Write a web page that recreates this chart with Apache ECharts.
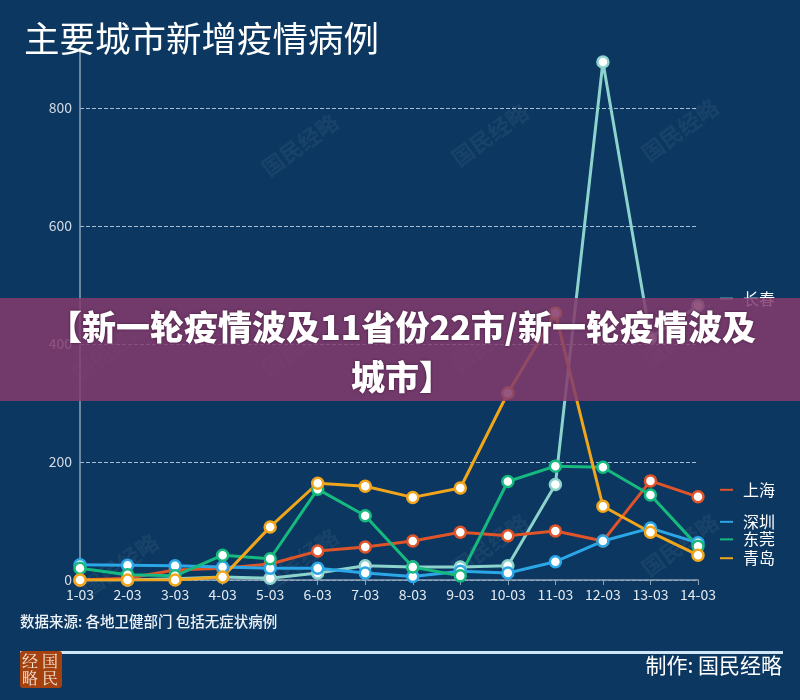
<!DOCTYPE html>
<html>
<head>
<meta charset="utf-8">
<script src="https://cdn.jsdelivr.net/npm/echarts@6/dist/echarts.min.js"></script>
<style>
  html, body { margin: 0; padding: 0; background: #0b3760; }
  #main { width: 800px; height: 700px; }
</style>
</head>
<body>
<div id="main"></div>
<script>
const days = ["1-03", "2-03", "3-03", "4-03", "5-03", "6-03", "7-03", "8-03", "9-03", "10-03", "11-03", "12-03", "13-03", "14-03"];

const changchun = [0, 0, 2, 5, 3, 12, 24, 22, 22, 24, 162, 878, 410, 465];
const shanghai = [0, 3, 17, 20, 27, 49, 56, 66, 81, 75, 83, 66, 168, 141];
const shenzhen = [26, 25, 24, 22, 20, 20, 12, 6, 15, 12, 31, 66, 88, 63];
const dongguan = [20, 9, 7, 42, 36, 154, 109, 22, 7, 167, 193, 191, 144, 57];
const qingdao = [0, 0, 0, 5, 90, 164, 159, 140, 156, 317, 452, 125, 81, 42];

const cities = ["长春", "上海", "深圳", "东莞", "青岛"];
const colors = ["#8dd3cd", "#e0542a", "#2ba6e6", "#16b97e", "#f1a51b"];
const values = [changchun, shanghai, shenzhen, dongguan, qingdao];
// vertical nudge of the end labels so the crowded ones don't collide
const labelShift = [-7, -7, -21, -7, 3];

const font = "'Noto Sans CJK SC', 'Noto Sans', sans-serif";

const chart = echarts.init(document.getElementById("main"));

const series = cities.map((name, i) => ({
	name: name,
	type: "line",
	data: values[i],
	symbol: "circle",
	symbolSize: 11,
	lineStyle: { color: colors[i], width: 3 },
	itemStyle: { color: "#fff", borderColor: colors[i], borderWidth: 2.5 },
	emphasis: { disabled: true },
	endLabel: {
		show: true,
		distance: 22,
		offset: [0, labelShift[i]],
		formatter: "{d|}{n|" + name + "}",
		rich: {
			d: { width: 13, height: 2, backgroundColor: colors[i] },
			n: { color: "#fff", fontSize: 16, lineHeight: 18, fontFamily: font, padding: [0, 0, 0, 10] },
		},
	},
}));

// watermark spots
const marks = [
	[300, 145], [490, 135], [680, 130],
	[110, 350], [300, 345], [490, 340], [680, 335],
	[120, 565], [300, 560], [490, 545], [680, 545],
];

chart.setOption({
	backgroundColor: "#0b3760",
	animation: false,
	textStyle: { fontFamily: font },
	title: {
		text: "主要城市新增疫情病例",
		left: 19,
		top: 16,
		textStyle: { color: "#fff", fontSize: 35.5, fontWeight: "normal", fontFamily: font },
	},
	grid: { left: 80, right: 102, top: 49, bottom: 120 },
	xAxis: {
		type: "category",
		data: days,
		boundaryGap: false,
		axisLine: { lineStyle: { color: "#8ea3b8", width: 1.5 } },
		axisTick: { show: true, alignWithLabel: true, lineStyle: { color: "#8ea3b8" } },
		axisLabel: { color: "#e4eaf2", fontSize: 14, margin: 8 },
	},
	yAxis: {
		type: "value",
		min: 0,
		max: 900,
		interval: 200,
		axisLine: { show: true, lineStyle: { color: "#8ea3b8", width: 1.5 } },
		axisLabel: { color: "#d3dbe5", fontSize: 14, showMaxLabel: false, margin: 8 },
		splitLine: {
			showMaxLine: false,
			lineStyle: { color: "rgba(220,235,250,0.75)", type: "dashed", width: 1 },
		},
	},
	series: series,
	graphic: [
		...marks.map((p) => ({
			type: "text",
			x: p[0],
			y: p[1],
			rotation: Math.PI / 5,
			z: 1,
			silent: true,
			style: {
				text: "国民经略",
				fill: "rgba(255,255,255,0.06)",
				font: "bold 22px 'Noto Sans CJK SC'",
				align: "center",
				verticalAlign: "middle",
			},
		})),
		{
			type: "text",
			left: 20,
			top: 614,
			style: {
				text: "数据来源: 各地卫健部门 包括无症状病例",
				fill: "#eef3f8",
				font: "500 14.5px 'Noto Sans CJK SC'",
			},
		},
		{
			type: "rect",
			shape: { x: 20, y: 651, width: 763, height: 3 },
			style: { fill: "#cfe6f7" },
		},
		{
			type: "group",
			x: 20,
			y: 651,
			children: [
				{
					type: "rect",
					shape: { x: 0, y: 0, width: 42, height: 37, r: 3 },
					style: { fill: "#a4410f" },
				},
				{ type: "text", x: 2, y: 2, style: { text: "经", fill: "#f5e6d8", font: "16px 'Noto Serif CJK SC', serif" } },
				{ type: "text", x: 22, y: 2, style: { text: "国", fill: "#f5e6d8", font: "16px 'Noto Serif CJK SC', serif" } },
				{ type: "text", x: 2, y: 19, style: { text: "略", fill: "#f5e6d8", font: "16px 'Noto Serif CJK SC', serif" } },
				{ type: "text", x: 22, y: 19, style: { text: "民", fill: "#f5e6d8", font: "16px 'Noto Serif CJK SC', serif" } },
			],
		},
		{
			type: "text",
			right: 18,
			top: 655,
			style: {
				text: "制作: 国民经略",
				fill: "#fff",
				font: "21px 'Noto Sans CJK SC'",
			},
		},
		{
			type: "rect",
			z: 100,
			shape: { x: 0, y: 298, width: 800, height: 103 },
			style: { fill: "rgba(132,59,109,0.86)" },
		},
		{
			type: "text",
			z: 101,
			x: 402,
			y: 352,
			style: {
				text: "【新一轮疫情波及11省份22市/新一轮疫情波及\n城市】",
				fill: "#fff",
				font: "900 34px 'Noto Sans CJK SC'",
				align: "center",
				verticalAlign: "middle",
				lineHeight: 50,
				textShadowColor: "rgba(40,0,30,0.6)",
				textShadowBlur: 3,
			},
		},
	],
});
</script>
</body>
</html>
